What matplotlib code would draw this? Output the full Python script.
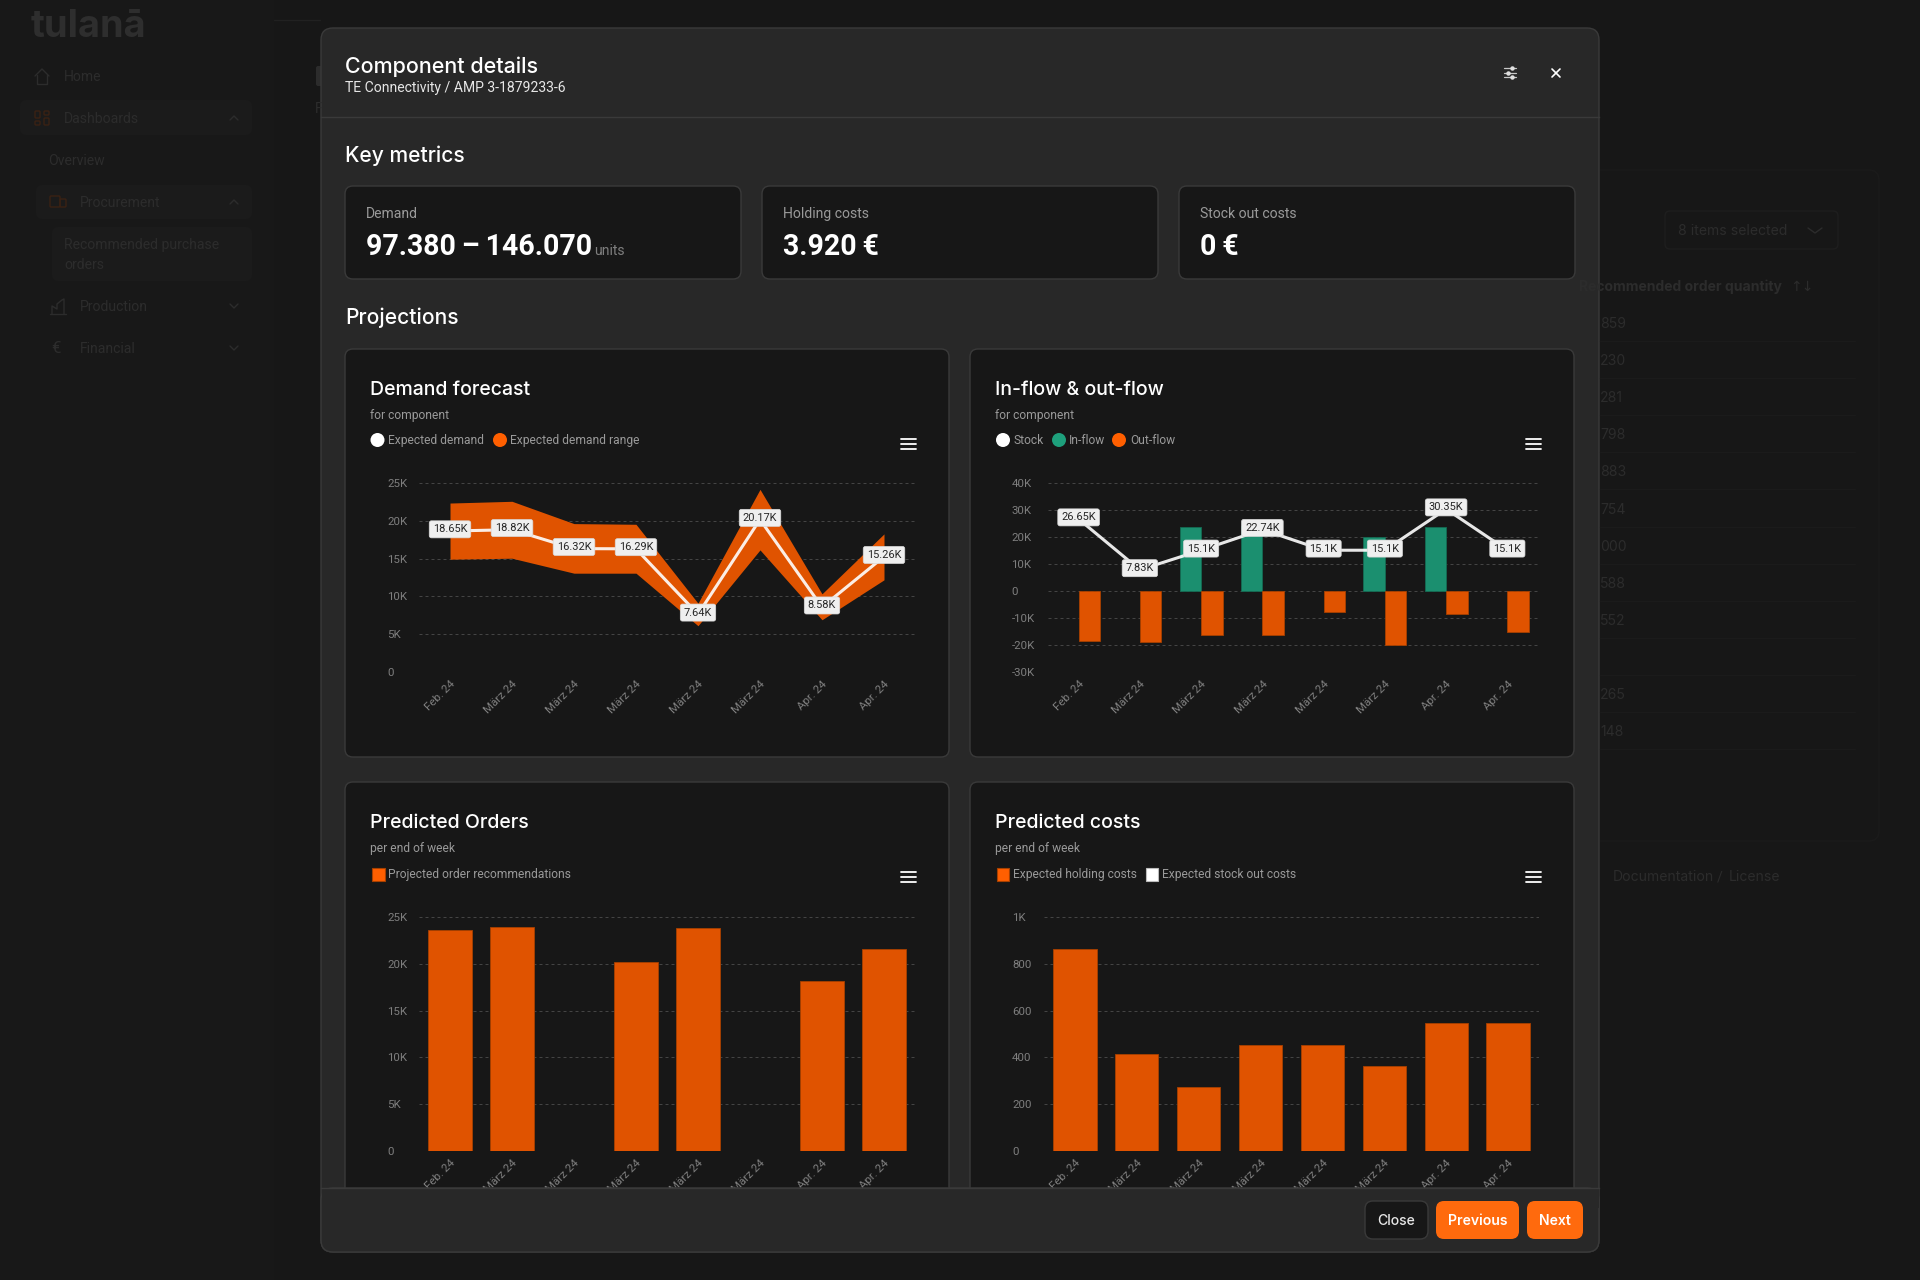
import matplotlib
matplotlib.use('Agg')
import matplotlib.pyplot as plt
from matplotlib.patches import FancyBboxPatch, Rectangle, Circle

plt.rcParams['font.family'] = ['Roboto', 'DejaVu Sans']

W, H = 1920, 1280

# chart data
months = ['Feb. 24', 'März 24', 'März 24', 'März 24', 'März 24', 'März 24', 'Apr. 24', 'Apr. 24']

expected_demand = [18650, 18820, 16320, 16290, 7640, 20170, 8580, 15260]
demand_labels = ['18.65K', '18.82K', '16.32K', '16.29K', '7.64K', '20.17K', '8.58K', '15.26K']
demand_upper = [22350, 22580, 19630, 19540, 9100, 24160, 10340, 18270]
demand_lower = [14920, 15050, 13070, 13070, 6120, 16150, 6910, 12190]

stock = [26650, 7830, 15100, 22740, 15100, 15100, 30350, 15100]
stock_labels = ['26.65K', '7.83K', '15.1K', '22.74K', '15.1K', '15.1K', '30.35K', '15.1K']
inflow = [0, 0, 23660, 23900, 0, 20090, 23800, 0]
outflow = [-18600, -18730, -16140, -16140, -7640, -20090, -8630, -15160]

orders = [23570, 23930, 0, 20160, 23820, 0, 18160, 21550]
holding_costs = [863, 413, 274, 453, 453, 362, 547, 547]

ticks_k25 = [0, 5000, 10000, 15000, 20000, 25000]
ticks_k25_labels = ['0', '5K', '10K', '15K', '20K', '25K']
ticks_flow = [-30000, -20000, -10000, 0, 10000, 20000, 30000, 40000]
ticks_flow_labels = ['-30K', '-20K', '-10K', '0', '10K', '20K', '30K', '40K']
ticks_cost = [0, 200, 400, 600, 800, 1000]
ticks_cost_labels = ['0', '200', '400', '600', '800', '1K']

# dimmed table behind the dialog
table_values = ['859', '230', '281', '798', '883', '754', '000', '588', '552', '', '265', '148']

ORANGE = '#E05300'
ORANGE_EDGE = '#A84000'
ORANGE_LEGEND = '#FF5F00'
BUTTON = '#FF6A0D'
GREEN = '#1B8F6F'
GREEN_EDGE = '#146B53'
GREEN_LEGEND = '#1EA07C'
CARD = '#171717'
MODAL = '#282828'
BORDER = '#3A3A3A'
DIM = '#2C2C2C'
MUTED = '#9A9A9A'
TICK = '#7E7E7E'
GRID = '#444444'
HEAD_FONT = ['Inter', 'DejaVu Sans']

fig = plt.figure(figsize=(W / 100, H / 100), dpi=100, facecolor='#171717')


def px_axes(zorder):
    ax = fig.add_axes([0, 0, 1, 1], zorder=zorder)
    ax.set_xlim(0, W)
    ax.set_ylim(H, 0)
    ax.axis('off')
    return ax


def txt(ax, x, y, s, px, color='white', weight='normal', ha='left', family=None):
    # y is the baseline, sizes are in pixels
    t = ax.text(x, y, s, fontsize=px * 0.72, color=color, fontweight=weight, ha=ha, va='baseline')
    if family:
        t.set_family(family)
    return t


def box(ax, x0, y0, x1, y1, fc, ec='none', r=8, lw=1.0, zorder=1):
    p = FancyBboxPatch((x0, y0), x1 - x0, y1 - y0, boxstyle=f'round,pad=0,rounding_size={r}',
                       fc=fc, ec=ec, lw=lw, zorder=zorder)
    ax.add_patch(p)
    return p


def seg(ax, xs, ys, color, lw=1.0, zorder=3):
    ax.plot(xs, ys, color=color, lw=lw, solid_capstyle='round', zorder=zorder)


bg = px_axes(0)

# --- page behind the dialog ---
bg.add_patch(Rectangle((0, 0), 274, H, fc='#181818', ec='none', zorder=0))
seg(bg, [274, 320], [20, 20], '#212121')
txt(bg, 31, 37, 'tulanā', 38, '#2E2E2E', 'bold', family=HEAD_FONT)
box(bg, 20, 100, 252, 135, '#1B1B1B', r=6)
box(bg, 36, 185, 252, 219, '#1B1B1B', r=6)
box(bg, 52, 227, 252, 281, '#1B1B1B', r=6)
for x, y, s in [(64, 81, 'Home'), (64, 123, 'Dashboards'), (48, 165, 'Overview'), (80, 207, 'Procurement'),
                (64, 249, 'Recommended purchase'), (64, 269, 'orders'), (80, 311, 'Production'), (80, 353, 'Financial')]:
    txt(bg, x, y, s, 14, DIM)
txt(bg, 51, 353, '€', 17, DIM)

# sidebar icons
seg(bg, [35, 42, 49], [76, 69, 76], DIM, 1)
seg(bg, [37, 37, 47, 47], [75, 84, 84, 75], DIM, 1)
for x0, y0, x1, y1 in [(35, 111, 40, 118), (44, 111, 49, 115), (35, 121, 40, 125), (44, 118, 49, 125)]:
    box(bg, x0, y0, x1, y1, 'none', '#3A2113', r=1)
box(bg, 50, 196, 60, 207, 'none', '#3A2113', r=1)
box(bg, 60, 199, 66, 207, 'none', '#3A2113', r=1)
seg(bg, [50, 66], [314, 314], DIM, 1)
seg(bg, [52, 52, 57, 57, 62, 64, 64], [314, 306, 309, 304, 300, 299, 314], DIM, 1)
for y, up in [(118, True), (202, True), (306, False), (348, False)]:
    d = -2 if up else 2
    seg(bg, [230, 234, 238], [y - d, y + d, y - d], DIM, 1)

# right-hand table
box(bg, 1560, 170, 1879, 841, 'none', '#1B1B1B', r=10)
box(bg, 1665, 211, 1838, 249, 'none', '#1E1E1E', r=5)
txt(bg, 1678, 235, '8 items selected', 14, DIM, family=HEAD_FONT)
seg(bg, [1808, 1815, 1822], [228, 233, 228], DIM, 1)
txt(bg, 1782, 291, 'Recommended order quantity', 14, DIM, 'bold', ha='right', family=HEAD_FONT)
txt(bg, 1790, 291, '↑↓', 14, DIM, family=['DejaVu Sans'])
for i, v in enumerate(table_values):
    y = 304 + i * 37.1
    txt(bg, 1600, y + 24, v, 14, DIM, family=HEAD_FONT)
    seg(bg, [1600, 1855], [y + 37, y + 37], '#1B1B1B', 1)
txt(bg, 1613, 881, 'Documentation', 14, DIM, family=HEAD_FONT)
txt(bg, 1717, 881, '/', 14, DIM)
txt(bg, 1729, 881, 'License', 14, DIM, family=HEAD_FONT)
box(bg, 316, 66, 330, 86, DIM, r=2)
txt(bg, 315, 113, 'F', 14, DIM)

# --- dialog ---
box(bg, 321, 28, 1599, 1252, MODAL, BORDER, r=12, zorder=2)
bg.plot([321, 1599], [117, 117], color=BORDER, lw=1, zorder=3)
txt(bg, 345, 73, 'Component details', 21.5, 'white', 500, family=HEAD_FONT).set_zorder(4)
txt(bg, 345, 92, 'TE Connectivity / AMP 3-1879233-6', 14, '#E6E6E6').set_zorder(4)

# header icons
for y, kx in [(68, 1512), (73, 1508), (77, 1512)]:
    seg(bg, [1504, 1516], [y, y], '#C8C8C8', 0.9)
    bg.plot([kx], [y], 'o', ms=2.2, color='#E0E0E0', zorder=4)
seg(bg, [1552, 1560], [69, 77], 'white', 1.2)
seg(bg, [1560, 1552], [69, 77], 'white', 1.2)

txt(bg, 345, 162, 'Key metrics', 21, 'white', 500, family=HEAD_FONT).set_zorder(4)
txt(bg, 345, 324, 'Projections', 21, 'white', 500, family=HEAD_FONT).set_zorder(4)

for x0, x1, name, value in [(345, 741, 'Demand', '97.380\u2009–\u2009146.070'), (762, 1158, 'Holding costs', '3.920\u2009€'),
                            (1179, 1575, 'Stock out costs', '0\u2009€')]:
    box(bg, x0, 186, x1, 279, CARD, BORDER, r=8, zorder=3)
    txt(bg, x0 + 21, 218, name, 14, MUTED).set_zorder(4)
    txt(bg, x0 + 21, 255, value, 28.5, 'white', 'bold').set_zorder(4)
txt(bg, 594, 255, 'units', 14, '#7E7E7E').set_zorder(4)


def chart_card(x0, y0, title, sub):
    box(bg, x0, y0, x0 + 604, y0 + 450 if y0 > 500 else y0 + 408, CARD, BORDER, r=8, zorder=3)
    txt(bg, x0 + 25, y0 + 46, title, 19.5, 'white', 500, family=HEAD_FONT).set_zorder(4)
    txt(bg, x0 + 25, y0 + 70, sub, 12, MUTED).set_zorder(4)
    ym = y0 + 95
    for dy in (-5, 0, 5):
        seg(bg, [x0 + 555.5, x0 + 570.5], [ym + dy, ym + dy], 'white', 1.3, zorder=5)


def legend_dot(x, y, color, label, lx):
    bg.add_patch(Circle((x, y), 7, fc=color, ec='none', zorder=5))
    txt(bg, lx, y + 4, label, 12, MUTED).set_zorder(5)


def legend_square(x, y, color, edge, label, lx):
    bg.add_patch(Rectangle((x, y - 6), 12.5, 12.5, fc=color, ec=edge, lw=0.8, zorder=5))
    txt(bg, lx, y + 4, label, 12, MUTED).set_zorder(5)


def chart_axes(x0, x1, y_top, y_bot, ylim, ticks, tick_labels, tick_x):
    ax = fig.add_axes([x0 / W, 1 - y_bot / H, (x1 - x0) / W, (y_bot - y_top) / H], zorder=2)
    ax.patch.set_visible(False)
    for s in ax.spines.values():
        s.set_visible(False)
    ax.set_xlim(-0.5, 7.5)
    ax.set_ylim(*ylim)
    ax.set_yticks(ticks, tick_labels)
    ax.set_xticks(range(8), months)
    ax.grid(True, axis='y', color=GRID, lw=0.72, linestyle=(0, (3, 3)))
    ax.grid(False, axis='x')
    ax.set_axisbelow(True)
    ax.tick_params(axis='both', length=0, labelsize=11.5 * 0.72, labelcolor=TICK)
    ax.tick_params(axis='y', pad=(x0 - tick_x) * 0.72)
    for t in ax.get_yticklabels():
        t.set_ha('left')
    for t in ax.get_xticklabels():
        t.set_rotation(45)
        t.set_ha('right')
        t.set_rotation_mode('anchor')
    ax.tick_params(axis='x', pad=5)
    return ax


def point_labels(ax, values, labels):
    for i, (v, s) in enumerate(zip(values, labels)):
        ax.annotate(s, (i, v), xytext=(0, 1.2), textcoords='offset points', ha='center', va='center',
                    fontsize=11 * 0.72, color='#262626', zorder=6, annotation_clip=False,
                    bbox=dict(boxstyle='round,pad=0.32,rounding_size=0.2', fc='#EFEFEF', ec='#D8D8D8', lw=0.5))


def bars(ax, positions, values, width, color, edge):
    # empty periods get no bar at all, otherwise the edge shows up as a line on the axis
    kept = [(p, v) for p, v in zip(positions, values) if v != 0]
    ax.bar([p for p, _ in kept], [v for _, v in kept], width, color=color, edgecolor=edge, lw=0.6, zorder=2)


# Demand forecast
chart_card(345, 349, 'Demand forecast', 'for component')
legend_dot(377.5, 440, 'white', 'Expected demand', 388)
legend_dot(500, 440, ORANGE_LEGEND, 'Expected demand range', 510)
ax1 = chart_axes(419, 915, 483, 672, (0, 25000), ticks_k25, ticks_k25_labels, 387)
ax1.fill_between(range(8), demand_lower, demand_upper, color=ORANGE, lw=0, zorder=2)
ax1.plot(range(8), expected_demand, color='white', alpha=0.9, lw=2.2, zorder=3, solid_joinstyle='miter')
point_labels(ax1, expected_demand, demand_labels)

# In-flow & out-flow
chart_card(970, 349, 'In-flow & out-flow', 'for component')
legend_dot(1003, 440, 'white', 'Stock', 1013)
legend_dot(1059, 440, GREEN_LEGEND, 'In-flow', 1069)
legend_dot(1119, 440, ORANGE_LEGEND, 'Out-flow', 1130)
ax2 = chart_axes(1048, 1538, 483, 672, (-30000, 40000), ticks_flow, ticks_flow_labels, 1011.5)
pos = list(range(8))
bars(ax2, [p - 0.175 for p in pos], inflow, 0.35, GREEN, GREEN_EDGE)
bars(ax2, [p + 0.175 for p in pos], outflow, 0.35, ORANGE, ORANGE_EDGE)
ax2.plot(pos, stock, color='white', alpha=0.9, lw=2.2, zorder=3, solid_joinstyle='miter')
point_labels(ax2, stock, stock_labels)

# Predicted Orders
chart_card(345, 782, 'Predicted Orders', 'per end of week')
legend_square(372, 874, ORANGE_LEGEND, ORANGE_EDGE, 'Projected order recommendations', 388)
ax3 = chart_axes(419, 915, 917, 1151, (0, 25000), ticks_k25, ticks_k25_labels, 387)
bars(ax3, pos, orders, 0.7, ORANGE, ORANGE_EDGE)

# Predicted costs
chart_card(970, 782, 'Predicted costs', 'per end of week')
legend_square(996.5, 874, ORANGE_LEGEND, ORANGE_EDGE, 'Expected holding costs', 1013)
legend_square(1145.5, 874, 'white', '#BBBBBB', 'Expected stock out costs', 1162)
ax4 = chart_axes(1044, 1539, 917, 1151, (0, 1000), ticks_cost, ticks_cost_labels, 1012)
bars(ax4, pos, holding_costs, 0.7, ORANGE, ORANGE_EDGE)

# --- footer sits over the scrolled content ---
top = px_axes(5)
top.patch.set_visible(False)
box(top, 321, 1188, 1599, 1252, MODAL, BORDER, r=12, zorder=1)
top.add_patch(Rectangle((321.5, 1188), 1277, 20, fc=MODAL, ec='none', zorder=2))
top.plot([321, 1599], [1188, 1188], color=BORDER, lw=1, zorder=3)
box(top, 1365, 1201, 1428, 1239, CARD, BORDER, r=8, zorder=3)
box(top, 1436, 1201, 1519, 1239, BUTTON, r=8, zorder=3)
box(top, 1527, 1201, 1583, 1239, BUTTON, r=8, zorder=3)
for x, s, w, c in [(1396.5, 'Close', 500, '#E6E6E6'), (1477.5, 'Previous', 600, 'white'), (1555, 'Next', 600, 'white')]:
    txt(top, x, 1225, s, 14, c, w, ha='center', family=HEAD_FONT).set_zorder(4)

fig.savefig('out.png', dpi=100, facecolor=fig.get_facecolor())
